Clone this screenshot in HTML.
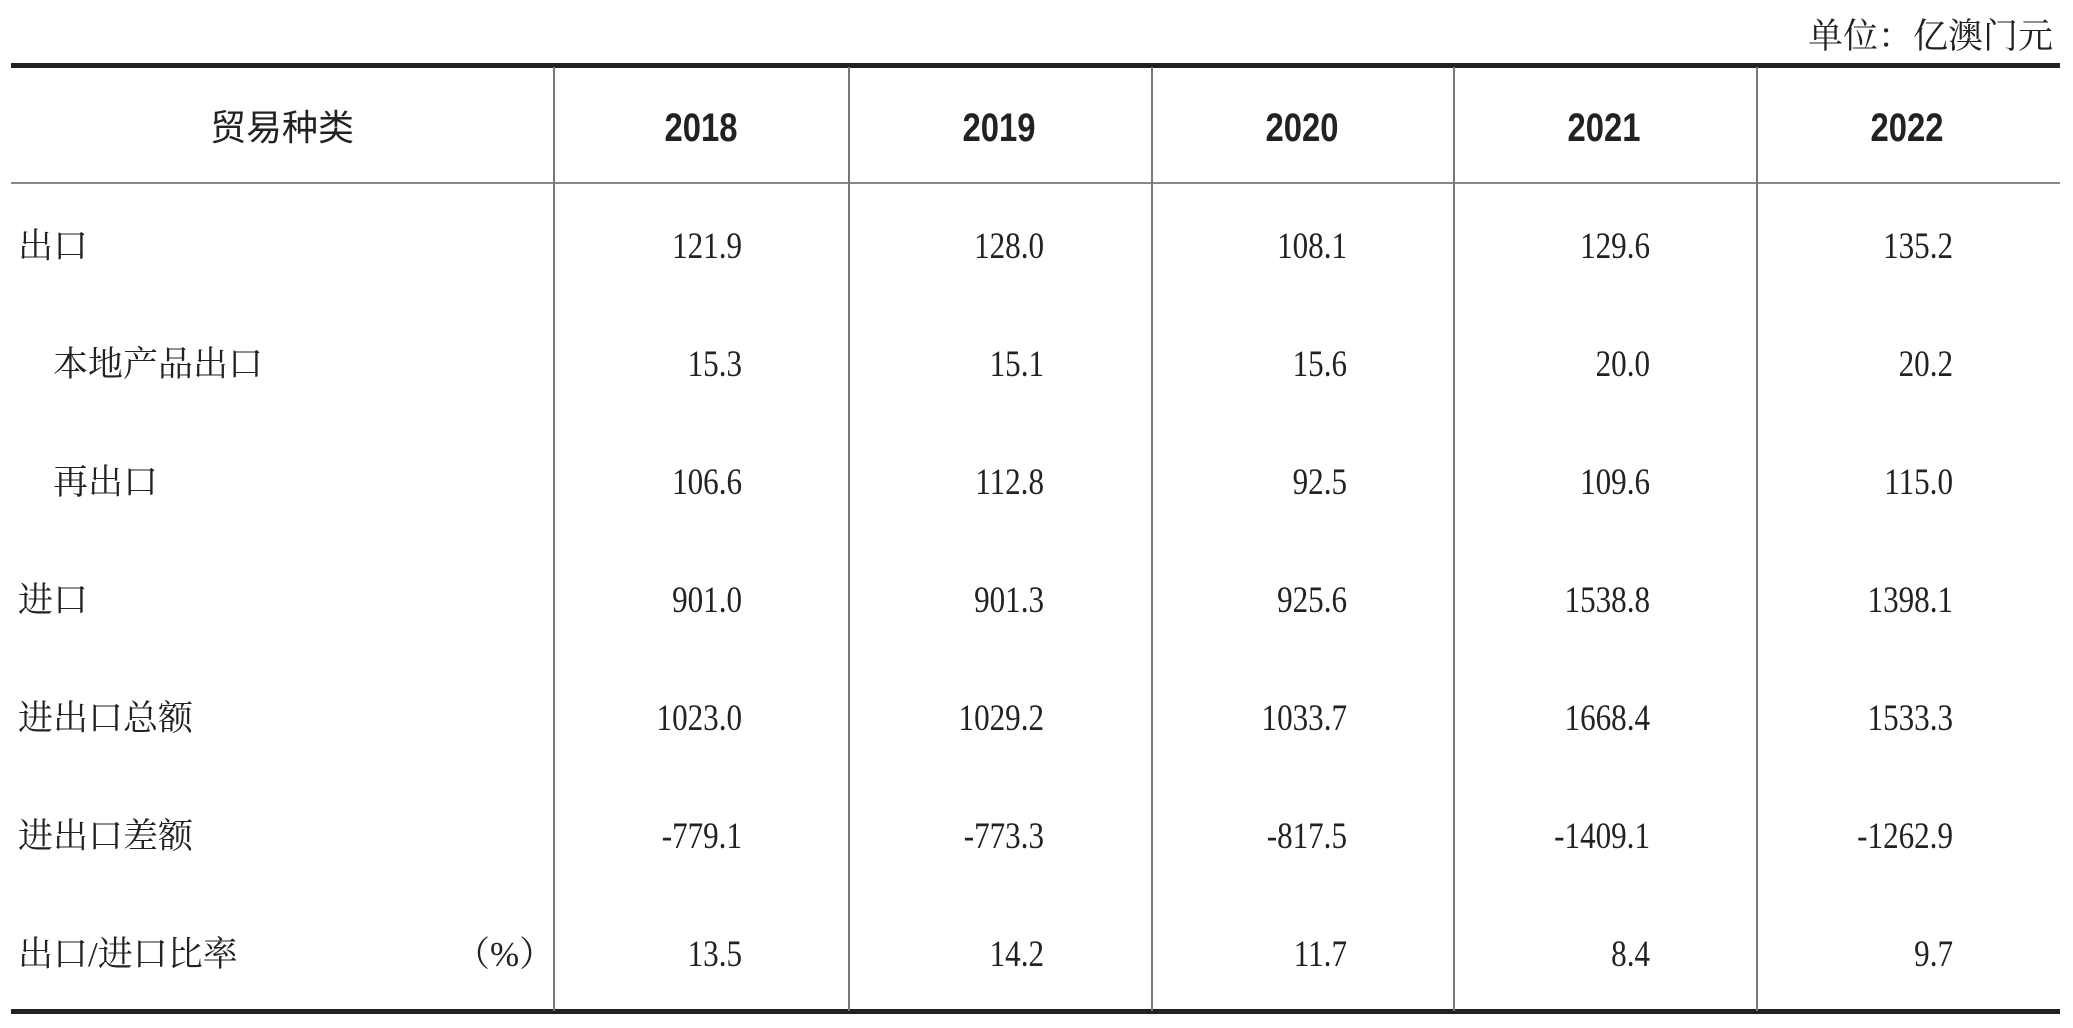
<!DOCTYPE html>
<html><head><meta charset="utf-8"><style>
body{margin:0;width:2073px;height:1028px;background:#fff;position:relative;overflow:hidden;font-family:"Liberation Serif","Noto Serif CJK SC",serif;color:#222}
.l{position:absolute;background:#222}
.v{position:absolute;width:2px;background:#777;top:67px;height:944px}
.t{position:absolute;font-size:33px;line-height:40px;white-space:nowrap}
.c{font-family:"Liberation Serif","Noto Serif CJK SC",serif;font-size:35px}
.n{text-align:right;width:200px;font-size:37px;transform:scaleX(0.84);transform-origin:right center}
.h{font-family:"Liberation Sans","Noto Sans CJK SC",sans-serif;font-weight:bold;font-size:40px;text-align:center;width:300px;transform:scaleX(0.82)}
</style></head><body>
<div class="t c" style="right:20px;top:17px">单位：亿澳门元</div>
<div class="l" style="left:11px;width:2049px;top:63px;height:5px"></div>
<div class="l" style="left:11px;width:2049px;top:182px;height:2px;background:#888"></div>
<div class="l" style="left:11px;width:2049px;top:1009px;height:5px"></div>
<div class="v" style="left:553px"></div>
<div class="v" style="left:848px"></div>
<div class="v" style="left:1151px"></div>
<div class="v" style="left:1453px"></div>
<div class="v" style="left:1756px"></div>
<div class="t" style="left:210px;top:108px;font-family:'Liberation Sans','Noto Sans CJK SC',sans-serif;font-size:36px">贸易种类</div>
<div class="t h" style="left:551px;top:108px">2018</div>
<div class="t h" style="left:849px;top:108px">2019</div>
<div class="t h" style="left:1152px;top:108px">2020</div>
<div class="t h" style="left:1454px;top:108px">2021</div>
<div class="t h" style="left:1757px;top:108px">2022</div>

<div class="t c" style="left:18px;top:227px">出口</div>
<div class="t c" style="left:53px;top:345px">本地产品出口</div>
<div class="t c" style="left:53px;top:463px">再出口</div>
<div class="t c" style="left:18px;top:581px">进口</div>
<div class="t c" style="left:18px;top:699px">进出口总额</div>
<div class="t c" style="left:18px;top:817px">进出口差额</div>
<div class="t c" style="left:18px;top:935px">出口/进口比率</div>
<div class="t c" style="left:455px;top:935px">（%）</div>

<div id="d"></div>
<script>
var rows=[["121.9","128.0","108.1","129.6","135.2"],["15.3","15.1","15.6","20.0","20.2"],["106.6","112.8","92.5","109.6","115.0"],["901.0","901.3","925.6","1538.8","1398.1"],["1023.0","1029.2","1033.7","1668.4","1533.3"],["-779.1","-773.3","-817.5","-1409.1","-1262.9"],["13.5","14.2","11.7","8.4","9.7"]];
var rights=[742,1044,1347,1650,1953],h="";
rows.forEach(function(r,i){r.forEach(function(v,j){h+='<div class="t n" style="left:'+(rights[j]-200)+'px;top:'+(227+118*i)+'px">'+v+'</div>';});});
document.getElementById("d").innerHTML=h;
</script>
</body></html>
